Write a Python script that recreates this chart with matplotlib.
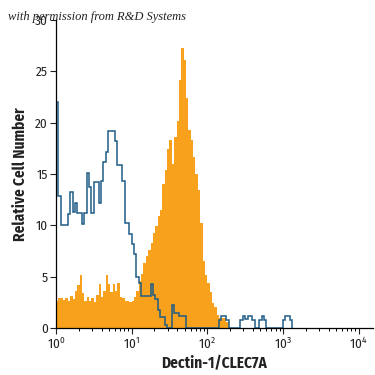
import numpy as np
import matplotlib
matplotlib.use("Agg")
import matplotlib.pyplot as plt
from matplotlib.ticker import LogLocator, FixedLocator

# histogram channels: 32 bins per decade, starting at 10^0
bins_per_decade = 32

# isotype control (blue outline), counts per bin
control = [22.0, 12.9, 10.0, 10.0, 10.0, 11.1, 13.2, 11.3, 12.2, 11.2,
           11.2, 10.1, 11.2, 15.1, 13.7, 11.2, 14.2, 14.2, 12.2, 14.3,
           16.2, 17.1, 19.2, 19.2, 19.2, 18.2, 15.9, 15.9, 14.3, 10.2,
           10.2, 9.2, 8.2, 7.2, 5.0, 4.4, 3.1, 3.1, 3.1, 3.1,
           4.3, 3.2, 2.8, 1.75, 1.1, 1.1, 0.3, 0.0, 0.0, 2.2,
           1.5, 1.5, 1.15, 1.15, 1.15, 0.0, 0.0, 0.0, 0.0, 0.0,
           0.0, 0.0, 0.0, 0.0, 0.0, 0.0, 0.0, 0.0, 0.0, 0.8,
           1.2, 1.2, 0.8, 0.0, 0.0, 0.0, 0.0, 0.0, 0.8, 1.2,
           0.9, 1.2, 1.2, 0.8, 0.0, 0.0, 0.8, 1.2, 0.8, 0.0,
           0.0, 0.0, 0.0, 0.0, 0.0, 0.0, 0.8, 1.2, 1.2, 0.8]

# Dectin-1 stained cells (orange fill), counts per bin
stained = [2.6, 2.9, 2.9, 2.7, 2.9, 2.6, 3.1, 2.8, 3.6, 4.2,
           5.2, 3.4, 2.6, 3.0, 2.6, 2.9, 2.5, 3.2, 4.3, 3.0,
           3.6, 5.2, 4.3, 3.5, 4.3, 3.6, 4.4, 3.0, 2.9, 2.6,
           2.6, 2.5, 2.6, 3.0, 3.6, 4.6, 5.3, 6.3, 7.0, 7.6,
           8.3, 9.3, 9.9, 10.9, 11.5, 14.0, 15.4, 17.4, 18.3, 16.0,
           18.6, 20.2, 24.2, 27.3, 26.1, 22.4, 19.3, 18.3, 16.7, 15.0,
           13.4, 10.2, 6.5, 5.2, 4.4, 3.5, 2.4, 2.0, 1.3, 1.0,
           1.0, 1.0, 0.6]

y_ticks = [0, 5, 10, 15, 20, 25, 30]
x_ticks = [1, 10, 100, 1000, 10000]
x_tick_labels = ["$10^0$", "$10^1$", "$10^2$", "$10^3$", "$10^4$"]

orange = "#f7a11c"
blue = "#1f5c86"
label_font = ["Fira Sans Condensed", "DejaVu Sans"]

plt.rcParams["mathtext.fontset"] = "custom"
plt.rcParams["mathtext.rm"] = "Fira Sans Condensed"
plt.rcParams["mathtext.it"] = "Fira Sans Condensed"

fig = plt.figure(figsize=(3.75, 3.75), dpi=100)
ax = fig.add_axes([56 / 375, 47 / 375, 317 / 375, 308 / 375])

edges_s = 10 ** (np.arange(len(stained) + 1) / bins_per_decade)
edges_c = 10 ** (np.arange(len(control) + 1) / bins_per_decade)

ax.stairs(stained, edges_s, fill=True, color=orange, lw=0)
ax.stairs(control, edges_c, color=blue, lw=1.1)

ax.set_xscale("log")
ax.set_xlim(1, 10 ** 4.19)
ax.set_ylim(0, 30)

ax.xaxis.set_major_locator(FixedLocator(x_ticks))
ax.set_xticklabels(x_tick_labels)
ax.xaxis.set_minor_locator(LogLocator(base=10, subs=np.arange(2, 10)))
ax.set_yticks(y_ticks)

for s in ["top", "right"]:
    ax.spines[s].set_visible(False)
ax.spines["left"].set_linewidth(0.9)
ax.spines["bottom"].set_linewidth(0.9)

ax.tick_params(which="major", direction="out", length=4, width=0.8,
               labelsize=9.5, colors="#222222", pad=2)
ax.tick_params(which="minor", direction="out", length=2.5, width=0.7)
for lab in ax.get_yticklabels() + ax.get_xticklabels():
    lab.set_family(label_font)

ax.set_xlabel("Dectin-1/CLEC7A", fontsize=11, fontweight="bold",
              family=label_font, color="#222222", labelpad=3)
ax.set_ylabel("Relative Cell Number", fontsize=11, fontweight="bold",
              family=label_font, color="#222222", labelpad=5)

fig.text(8 / 375, 1 - 17 / 375, "with permission from R&D Systems",
         family="Liberation Serif", style="italic", fontsize=9,
         color="#222222", va="center", ha="left")

fig.savefig("out.png", dpi=100)
